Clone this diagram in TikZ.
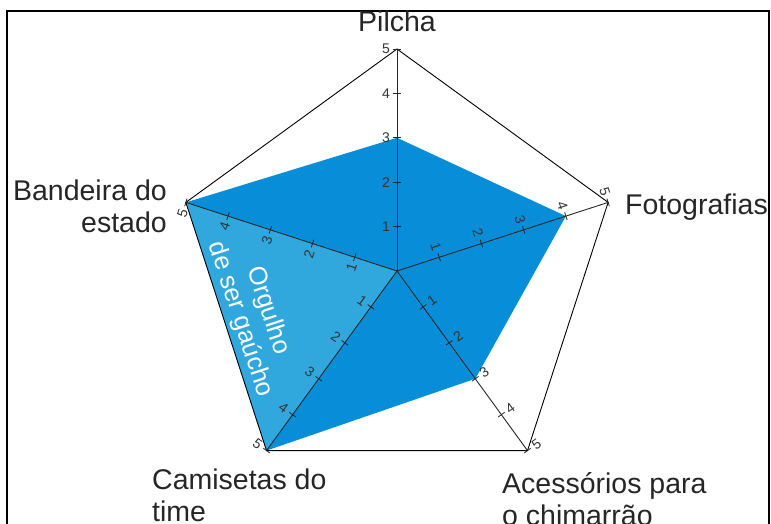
\documentclass[tikz,border=0pt]{standalone}
\usepackage{fontspec}
\setmainfont{Liberation Sans}
\usetikzlibrary{calc}
\definecolor{radarblue}{RGB}{8,142,216}
\definecolor{prideblue}{RGB}{48,168,222}
\tikzstyle{axis} = [line width=0.9pt, color=black!85]
\tikzstyle{rim} = [line width=0.9pt, color=black]
\tikzstyle{tickmark} = [line width=0.8pt, color=black!85]
\tikzstyle{ticklabel} = [font=\fontsize{14}{14}\selectfont, inner sep=0pt, text=black!80]
\tikzstyle{category} = [font=\fontsize{28.5}{32}\selectfont, inner sep=0pt, text=black!85]
\tikzstyle{pride} = [font=\fontsize{25.5}{29}\selectfont, inner sep=0pt, text=white, align=center, rotate=-72]
\tikzstyle{frame} = [line width=1.5pt]

\begin{document}
\begin{tikzpicture}[x=1pt, y=1pt]
\useasboundingbox (-397,-253) rectangle (374,271);

% Frame
\draw[frame] (-390,-280) rectangle (372,260);

% Centre and outer vertices (value 5)
\coordinate (c) at (0,0);
\coordinate (pil) at (90:222);
\coordinate (fot) at (18:222);
\coordinate (ace) at (-54:222);
\coordinate (cam) at (234:222);
\coordinate (ban) at (162:222);

% Data points
\coordinate (pil3) at (90:133.2);
\coordinate (fot4) at (18:177.6);
\coordinate (ace3) at (-54:133.2);

% Data polygon
\fill[radarblue] (pil3) -- (fot4) -- (ace3) -- (cam) -- (ban) -- cycle;
\fill[prideblue] (c) -- (ban) -- (cam) -- cycle;

% Outer pentagon
\draw[rim] (pil) -- (fot) -- (ace) -- (cam) -- (ban) -- cycle;

% Axes, ticks and tick labels
\foreach \a/\p/\r/\n in {90/180/0/pil, 18/108/-72/fot, -54/36/36/ace, 234/144/-36/cam, 162/252/72/ban} {
  \draw[axis] (c) -- (\n);
  \foreach \k in {1,...,5} {
    \draw[tickmark] ($({\a}:{\k*44.4})+({\a+90}:4)$) -- ($({\a}:{\k*44.4})+({\a-90}:4)$);
    \node[ticklabel, rotate=\r] at ($({\a}:{\k*44.4})+({\p}:11)$) {\k};
  }
}

% Category labels
\node[category, anchor=base] (pilcha) at (0,239) {Pilcha};
\node[category, anchor=base west] (fotografias) at (228,56) {Fotografias};
\node[category, anchor=north east, align=right] (bandeira) at (-230,91) {Bandeira do\\estado};
\node[category, anchor=north west, align=left] (camisetas) at (-245,-198) {Camisetas do\\time};
\node[category, anchor=north west, align=left] (acessorios) at (105,-201) {Acessórios para\\o chimarrão};

% Label inside the light area
\node[pride] (orgulho) at (-143,-44) {Orgulho\\de ser gaúcho};

\end{tikzpicture}
\end{document}
